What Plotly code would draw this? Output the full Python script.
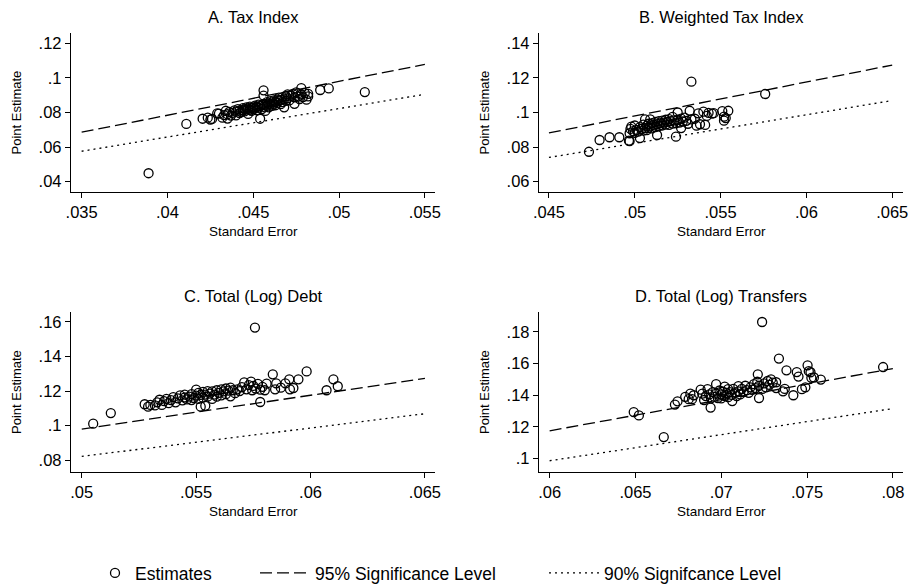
import plotly.graph_objects as go

# ---------------- data (values in units of 1e-3) ----------------
A_se = [38.9, 41.1, 42.05, 42.35, 42.5, 42.6, 42.9, 43.0, 43.2, 43.3, 43.4, 43.5, 43.5, 43.6, 43.7, 43.8, 43.9, 44.0, 44.0, 44.1,
        44.2, 44.2, 44.3, 44.4, 44.4, 44.5, 44.5, 44.6, 44.6, 44.7, 44.7, 44.8, 44.8, 44.9, 44.9, 45.0, 45.0, 45.1, 45.1, 45.2,
        45.2, 45.3, 45.3, 45.4, 45.4, 45.5, 45.5, 45.6, 45.6, 45.6, 45.6, 45.7, 45.7, 45.8, 45.8, 45.9, 45.9, 46.0, 46.0, 46.1,
        46.1, 46.2, 46.2, 46.3, 46.3, 46.4, 46.4, 46.5, 46.5, 46.6, 46.6, 46.7, 46.7, 46.8, 46.8, 46.9, 46.9, 47.0, 47.0, 47.1,
        47.2, 47.3, 47.4, 47.4, 47.5, 47.6, 47.6, 47.7, 47.8, 47.8, 47.9, 48.0, 48.1, 48.2, 48.2, 48.9, 49.4, 51.5]
A_pe = [44.9, 73.4, 76.4, 77.0, 75.9, 76.3, 79.5, 79.3, 77.0, 78.5, 81.0, 76.5, 79.0, 80.3, 78.2, 79.8, 81.2, 78.3, 80.5, 82.0,
        79.6, 81.1, 80.2, 82.5, 81.3, 80.6, 82.0, 81.7, 83.0, 79.2, 82.3, 81.5, 83.4, 82.6, 80.9, 83.0, 81.8, 84.0, 82.4, 83.2,
        81.3, 84.5, 82.8, 83.7, 76.4, 84.2, 82.0, 92.8, 89.8, 85.0, 83.3, 84.5, 80.9, 86.0, 83.9, 85.2, 83.0, 86.6, 84.6, 85.8,
        83.8, 87.0, 85.0, 86.2, 84.2, 87.5, 85.6, 86.9, 88.6, 87.3, 84.8, 88.9, 86.0, 87.6, 83.0, 89.4, 86.8, 90.5, 88.2, 87.0,
        89.6, 90.8, 88.8, 85.0, 91.6, 89.2, 91.0, 87.8, 94.1, 90.4, 88.9, 91.2, 87.4, 89.3, 90.8, 93.0, 93.9, 91.8]

B_se = [47.33, 47.95, 48.53, 49.1, 49.66, 49.7, 49.7, 49.75, 49.8, 49.9, 50.0, 50.0, 50.1, 50.2, 50.3, 50.3, 50.4, 50.5, 50.5, 50.6,
        50.6, 50.7, 50.7, 50.8, 50.8, 50.9, 50.9, 51.0, 51.0, 51.1, 51.2, 51.2, 51.3, 51.3, 51.4, 51.4, 51.5, 51.6, 51.6, 51.7,
        51.8, 51.8, 51.9, 52.0, 52.0, 52.1, 52.2, 52.2, 52.3, 52.4, 52.4, 52.5, 52.5, 52.6, 52.7, 52.7, 52.8, 52.9, 53.0, 53.1,
        53.2, 53.3, 53.3, 53.5, 53.6, 53.7, 53.8, 54.0, 54.1, 54.2, 54.3, 54.5, 54.6, 55.1, 55.2, 55.2, 55.3, 55.45, 57.6]
B_pe = [77.3, 84.1, 85.7, 85.7, 83.7, 83.4, 88.0, 90.5, 91.8, 89.2, 92.5, 88.3, 90.0, 89.0, 85.2, 91.5, 90.6, 93.0, 89.5, 96.0,
        91.0, 92.3, 89.8, 93.5, 91.0, 92.0, 96.0, 93.8, 90.8, 92.8, 94.5, 91.6, 93.3, 87.0, 95.0, 92.2, 93.8, 95.3, 92.5, 94.2,
        95.8, 93.0, 94.6, 96.2, 92.8, 95.0, 93.6, 97.5, 95.4, 86.0, 93.8, 100.0, 95.8, 94.2, 96.5, 91.0, 94.8, 97.0, 95.2, 93.5,
        101.0, 117.8, 96.0, 96.4, 92.4, 99.5, 93.2, 100.5, 92.8, 98.0, 99.8, 99.3, 99.6, 100.8, 95.3, 97.6, 96.8, 101.0, 110.7]

C_se = [50.5, 51.27, 52.75, 52.9, 53.0, 53.2, 53.3, 53.4, 53.5, 53.6, 53.7, 53.8, 53.9, 54.0, 54.1, 54.2, 54.3, 54.4, 54.5, 54.5,
        54.6, 54.7, 54.8, 54.8, 54.9, 55.0, 55.0, 55.1, 55.1, 55.2, 55.2, 55.3, 55.3, 55.4, 55.4, 55.5, 55.5, 55.6, 55.7, 55.7,
        55.8, 55.9, 55.9, 56.0, 56.1, 56.1, 56.2, 56.3, 56.3, 56.4, 56.5, 56.5, 56.6, 56.7, 56.8, 56.9, 57.0, 57.1, 57.2, 57.3,
        57.4, 57.45, 57.5, 57.57, 57.6, 57.7, 57.8, 57.8, 57.9, 58.08, 58.0, 58.35, 58.45, 58.5, 58.7, 58.9, 59.07, 59.1, 59.25, 59.47,
        59.83, 60.7, 61.0, 61.19]
C_pe = [101.2, 107.3, 112.4, 111.0, 112.0, 111.7, 113.5, 115.0, 112.0, 114.2, 115.5, 113.0, 114.8, 116.5, 113.5, 115.8, 117.5, 114.6, 116.3, 118.0,
        115.2, 116.8, 114.8, 118.3, 116.0, 117.4, 120.8, 115.5, 119.0, 111.0, 117.8, 116.2, 119.5, 111.5, 118.0, 116.8, 120.0, 118.5, 115.5, 119.8,
        118.0, 120.5, 116.8, 119.0, 121.0, 117.5, 119.8, 121.5, 118.2, 120.3, 122.0, 117.0, 120.5, 118.8, 121.0, 120.0, 122.3, 125.0, 121.0, 123.5,
        125.5, 120.5, 123.0, 156.7, 121.5, 124.2, 113.7, 120.8, 122.5, 124.3, 120.5, 129.7, 121.0, 124.5, 122.0, 124.5, 126.8, 121.0, 121.8, 126.8,
        131.4, 120.5, 126.8, 122.8]

D_se = [64.9, 65.2, 66.65, 67.3, 67.45, 67.9, 68.1, 68.2, 68.3, 68.4, 68.8, 68.9, 69.0, 69.1, 69.2, 69.3, 69.38, 69.4, 69.5, 69.6,
        69.7, 69.7, 69.8, 69.9, 70.0, 70.0, 70.1, 70.2, 70.2, 70.3, 70.4, 70.4, 70.5, 70.6, 70.64, 70.7, 70.8, 70.9, 71.0, 71.0,
        71.1, 71.2, 71.3, 71.4, 71.5, 71.6, 71.7, 71.8, 71.9, 72.0, 72.1, 72.13, 72.2, 72.2, 72.38, 72.4, 72.5, 72.6, 72.7, 72.8,
        72.9, 73.0, 73.2, 73.36, 73.2, 73.6, 73.7, 73.8, 74.2, 74.4, 74.5, 74.7, 74.9, 75.03, 75.1, 75.2, 75.25, 75.4, 75.8, 79.43]
D_pe = [129.4, 127.3, 113.6, 134.1, 136.2, 139.0, 137.5, 141.0, 137.5, 140.0, 143.5, 141.0, 137.0, 139.5, 143.8, 140.5, 132.2, 138.0, 142.0, 139.0,
        147.0, 141.0, 138.2, 143.0, 140.5, 138.0, 142.2, 145.5, 139.5, 141.5, 143.8, 138.8, 142.0, 140.3, 136.3, 144.0, 141.8, 139.5, 145.8, 142.5,
        140.5, 144.0, 142.0, 146.0, 143.2, 141.5, 145.0, 143.5, 147.0, 144.5, 148.5, 153.2, 138.2, 146.0, 186.2, 144.0, 147.5, 145.0, 149.0, 146.5,
        150.0, 148.0, 148.2, 163.1, 144.5, 142.5, 144.0, 155.7, 140.0, 154.6, 151.8, 143.8, 145.0, 158.9, 155.2, 154.5, 151.0, 151.2, 149.9, 157.8]

# significance lines: endpoints (x, 95% y, 90% y)
A_line_x = [0.035, 0.055]; A_sig95 = [0.0686, 0.1078]; A_sig90 = [0.0576, 0.0905]
B_line_x = [0.045, 0.065]; B_sig95 = [0.0882, 0.1274]; B_sig90 = [0.0740, 0.1069]
C_line_x = [0.050, 0.065]; C_sig95 = [0.0980, 0.1274]; C_sig90 = [0.08225, 0.1069]
D_line_x = [0.060, 0.080]; D_sig95 = [0.1176, 0.1568]; D_sig90 = [0.0987, 0.1316]

titles = ["A. Tax Index", "B. Weighted Tax Index", "C. Total (Log) Debt", "D. Total (Log) Transfers"]
A_xticks = [0.035, 0.04, 0.045, 0.05, 0.055]; A_xtext = [".035", ".04", ".045", ".05", ".055"]
A_yticks = [0.04, 0.06, 0.08, 0.1, 0.12]; A_ytext = [".04", ".06", ".08", ".1", ".12"]
B_xticks = [0.045, 0.05, 0.055, 0.06, 0.065]; B_xtext = [".045", ".05", ".055", ".06", ".065"]
B_yticks = [0.06, 0.08, 0.1, 0.12, 0.14]; B_ytext = [".06", ".08", ".1", ".12", ".14"]
C_xticks = [0.05, 0.055, 0.06, 0.065]; C_xtext = [".05", ".055", ".06", ".065"]
C_yticks = [0.08, 0.1, 0.12, 0.14, 0.16]; C_ytext = [".08", ".1", ".12", ".14", ".16"]
D_xticks = [0.06, 0.065, 0.07, 0.075, 0.08]; D_xtext = [".06", ".065", ".07", ".075", ".08"]
D_yticks = [0.1, 0.12, 0.14, 0.16, 0.18]; D_ytext = [".1", ".12", ".14", ".16", ".18"]

legend_names = ["Estimates", "95% Significance Level", "90% Signifcance Level"]

# ---------------- figure ----------------
W, H = 909, 584
FONT = "Liberation Sans, Arial, Helvetica, sans-serif"

panels = [
    dict(se=A_se, pe=A_pe, lx=A_line_x, l95=A_sig95, l90=A_sig90, xt=A_xticks, xtt=A_xtext, yt=A_yticks, ytt=A_ytext,
         xr=[0.03438, 0.05559], yr=[0.03405, 0.12595], xd=(71, 435), yd=(33, 192)),
    dict(se=B_se, pe=B_pe, lx=B_line_x, l95=B_sig95, l90=B_sig90, xt=B_xticks, xtt=B_xtext, yt=B_yticks, ytt=B_ytext,
         xr=[0.04442, 0.06563], yr=[0.05405, 0.14595], xd=(539, 903), yd=(33, 192)),
    dict(se=C_se, pe=C_pe, lx=C_line_x, l95=C_sig95, l90=C_sig90, xt=C_xticks, xtt=C_xtext, yt=C_yticks, ytt=C_ytext,
         xr=[0.04953, 0.06544], yr=[0.07324, 0.16572], xd=(71, 435), yd=(312, 472)),
    dict(se=D_se, pe=D_pe, lx=D_line_x, l95=D_sig95, l90=D_sig90, xt=D_xticks, xtt=D_xtext, yt=D_yticks, ytt=D_ytext,
         xr=[0.05938, 0.08059], yr=[0.0916, 0.1925], xd=(539, 903), yd=(312, 472)),
]

fig = go.Figure()
annotations = []
layout_axes = {}
for i, p in enumerate(panels):
    n = i + 1
    xa = "x" if n == 1 else f"x{n}"
    ya = "y" if n == 1 else f"y{n}"
    first = (i == 0)
    fig.add_trace(go.Scatter(
        x=[v / 1000 for v in p["se"]], y=[v / 1000 for v in p["pe"]], mode="markers",
        marker=dict(symbol="circle-open", size=9, color="black", line=dict(width=1.3, color="black")),
        name=legend_names[0], showlegend=first, legend="legend", xaxis=xa, yaxis=ya))
    fig.add_trace(go.Scatter(
        x=p["lx"], y=p["l95"], mode="lines", line=dict(color="black", width=1.3, dash="12px,5px"),
        name=legend_names[1], showlegend=first, legend="legend2", xaxis=xa, yaxis=ya))
    fig.add_trace(go.Scatter(
        x=p["lx"], y=p["l90"], mode="lines", line=dict(color="black", width=1.3, dash="2px,4px"),
        name=legend_names[2], showlegend=first, legend="legend3", xaxis=xa, yaxis=ya))

    xd = [p["xd"][0] / W, p["xd"][1] / W]
    yd = [1 - p["yd"][1] / H, 1 - p["yd"][0] / H]
    common = dict(showline=True, linecolor="black", linewidth=1.3, showgrid=False, zeroline=False,
                  ticks="outside", ticklen=5, tickwidth=1.3, tickcolor="black",
                  tickfont=dict(family=FONT, size=16.5, color="black"), tickmode="array")
    layout_axes["xaxis" if n == 1 else f"xaxis{n}"] = dict(
        domain=xd, range=p["xr"], anchor=ya, tickvals=p["xt"], ticktext=p["xtt"], **common)
    layout_axes["yaxis" if n == 1 else f"yaxis{n}"] = dict(
        domain=yd, range=p["yr"], anchor=xa, tickvals=p["yt"], ticktext=p["ytt"], **common)

    cx = (p["xd"][0] + p["xd"][1]) / 2 / W
    # title
    annotations.append(dict(text=titles[i], x=cx, y=1 - (p["yd"][0] - 16) / H, xref="paper", yref="paper",
                            showarrow=False, xanchor="center", yanchor="middle",
                            font=dict(family=FONT, size=16.5, color="black")))
    # x title
    annotations.append(dict(text="Standard Error", x=cx, y=1 - (p["yd"][1] + 39) / H, xref="paper", yref="paper",
                            showarrow=False, xanchor="center", yanchor="middle",
                            font=dict(family=FONT, size=13.5, color="black")))
    # y title
    annotations.append(dict(text="Point Estimate", x=(p["xd"][0] - 55) / W, y=1 - (p["yd"][0] + p["yd"][1]) / 2 / H,
                            xref="paper", yref="paper", showarrow=False, textangle=-90,
                            xanchor="center", yanchor="middle",
                            font=dict(family=FONT, size=13, color="black")))

leg_common = dict(orientation="h", xanchor="left", y=1 - 573 / H, yanchor="middle",
                  font=dict(family=FONT, size=17.5, color="black"), bgcolor="rgba(0,0,0,0)",
                  borderwidth=0)

fig.update_layout(
    width=W, height=H, margin=dict(l=0, r=0, t=0, b=0, autoexpand=False),
    paper_bgcolor="white", plot_bgcolor="white",
    font=dict(family=FONT, color="black"),
    annotations=annotations,
    legend=dict(x=95 / W, itemwidth=30, **leg_common),
    legend2=dict(x=255 / W, itemwidth=50, **leg_common),
    legend3=dict(x=544 / W, itemwidth=50, **leg_common),
    **layout_axes,
)

fig.write_html("out.html",
               config={"displayModeBar": False},
               post_script="document.body.style.margin='0';document.body.style.overflow='hidden';")
